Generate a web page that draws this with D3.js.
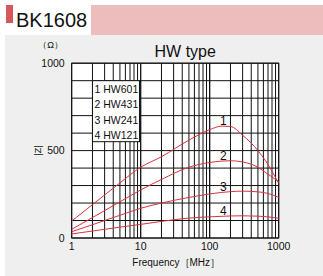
<!DOCTYPE html>
<html>
<head>
<meta charset="utf-8">
<script src="https://cdn.jsdelivr.net/npm/d3@7"></script>
<style>
  body { margin: 0; background: #fff; }
  text { font-family: "Liberation Sans", Arial, sans-serif; fill: #111; }
</style>
</head>
<body>
<script>
// data
let freqs = [1, 2, 5, 10, 20, 50, 100, 150, 200, 300, 500, 700, 1000];
let hw601 = [97, 191, 315, 405, 465, 560, 620, 640, 638, 588, 500, 420, 312];
let hw431 = [50, 117, 207, 275, 335, 405, 432, 440, 442, 435, 405, 365, 322];
let hw241 = [36, 76, 130, 170, 200, 232, 252, 261, 265, 268, 264, 255, 232];
let hw121 = [23, 40, 62, 78, 95, 114, 121, 124, 126, 127, 125, 121, 113];
let seriesNames = ["1 HW601", "2 HW431", "3 HW241", "4 HW121"];
let curveTags = ["1", "2", "3", "4"];
let yTicks = [0, 500, 1000];
let xTicks = [1, 10, 100, 1000];

let svgWidth = 323;
let svgHeight = 276;
let margin = {top: 63.2, right: 44.3, bottom: 38, left: 71.7};
let width = svgWidth - margin.left - margin.right;
let height = svgHeight - margin.top - margin.bottom;

let svg = d3.select("body")
    .append("svg")
    .attr("width", svgWidth)
    .attr("height", svgHeight);

// header
svg.append("rect").attr("x", 5).attr("y", 35).attr("width", 318).attr("height", 241).attr("fill", "#efefef");
svg.append("rect").attr("x", 91).attr("y", 5).attr("width", 232).attr("height", 30).attr("fill", "#edbcbc");
svg.append("rect").attr("x", 6).attr("y", 5).attr("width", 7).attr("height", 18).attr("fill", "#d65858");
svg.append("text").attr("x", 16).attr("y", 27).style("font-size", "20px").text("BK1608");

let chartGroup = svg.append("g")
    .attr("transform", `translate(${margin.left}, ${margin.top})`);

let xScale = d3.scaleLog().domain([1, 1000]).range([0, width]);
let yScale = d3.scaleLinear().domain([0, 1000]).range([height, 0]);

chartGroup.append("rect")
    .attr("width", width).attr("height", height)
    .attr("fill", "#fff");

// grid
let xGrid = [];
for (let d = 1; d < 1000; d *= 10) {
  for (let k = 1; k <= 10; k++) xGrid.push(d * k);
}
chartGroup.selectAll(".vgrid")
    .data(xGrid)
    .enter()
    .append("line")
    .attr("x1", d => xScale(d)).attr("x2", d => xScale(d))
    .attr("y1", 0).attr("y2", height)
    .attr("stroke", "#111").attr("stroke-width", 1);

chartGroup.selectAll(".hgrid")
    .data(d3.range(0, 1001, 100))
    .enter()
    .append("line")
    .attr("x1", 0).attr("x2", width)
    .attr("y1", d => yScale(d)).attr("y2", d => yScale(d))
    .attr("stroke", "#111").attr("stroke-width", 1);

chartGroup.append("rect")
    .attr("width", width).attr("height", height)
    .attr("fill", "none").attr("stroke", "#111").attr("stroke-width", 1);

// curves
let line = d3.line()
    .x((d, i) => xScale(freqs[i]))
    .y(d => yScale(d))
    .curve(d3.curveMonotoneX);

[hw601, hw431, hw241, hw121].forEach(function(s) {
  chartGroup.append("path")
    .attr("d", line(s))
    .attr("fill", "none")
    .attr("stroke", "#d8343c")
    .attr("stroke-width", 1);
});

// curve numbers
let tagVals = [668, 473, 295, 156];
chartGroup.selectAll(".tag")
    .data(curveTags)
    .enter()
    .append("text")
    .attr("x", xScale(158))
    .attr("y", (d, i) => yScale(tagVals[i]))
    .attr("dy", "0.35em")
    .style("text-anchor", "middle")
    .style("font-size", "12px")
    .text(d => d);

// legend
let legend = chartGroup.append("g")
    .attr("transform", `translate(${xScale(2)}, ${yScale(900)})`);
legend.append("rect")
    .attr("width", 47).attr("height", 61)
    .attr("fill", "#fff").attr("stroke", "#111").attr("stroke-width", 1);
legend.selectAll("text")
    .data(seriesNames)
    .enter()
    .append("text")
    .attr("x", 2)
    .attr("y", (d, i) => 12 + i * 15.5)
    .style("font-size", "10.5px")
    .text(d => d);

// axis labels
chartGroup.selectAll(".ytick")
    .data(yTicks)
    .enter()
    .append("text")
    .attr("x", -7)
    .attr("y", d => yScale(d))
    .attr("dy", "0.35em")
    .style("text-anchor", "end")
    .style("font-size", "10.5px")
    .text(d => d);

chartGroup.selectAll(".xtick")
    .data(xTicks)
    .enter()
    .append("text")
    .attr("x", d => xScale(d))
    .attr("y", height + 12.5)
    .style("text-anchor", "middle")
    .style("font-size", "10.5px")
    .text(d => d);

chartGroup.append("text")
    .attr("x", width / 2 + 1)
    .attr("y", height + 28)
    .style("text-anchor", "middle")
    .style("font-size", "10px")
    .text("Frequency［MHz］");

chartGroup.append("text")
    .attr("x", -21)
    .attr("y", -15)
    .style("text-anchor", "middle")
    .style("font-size", "9px")
    .text("（Ω）");

chartGroup.append("text")
    .attr("transform", `translate(-34, ${yScale(500)}) rotate(-90)`)
    .attr("dy", "0.35em")
    .style("text-anchor", "middle")
    .style("font-size", "9px")
    .text("|Z|");

chartGroup.append("text")
    .attr("x", width / 2 + 10)
    .attr("y", -6)
    .style("text-anchor", "middle")
    .style("font-size", "16px")
    .text("HW type");
</script>
</body>
</html>
